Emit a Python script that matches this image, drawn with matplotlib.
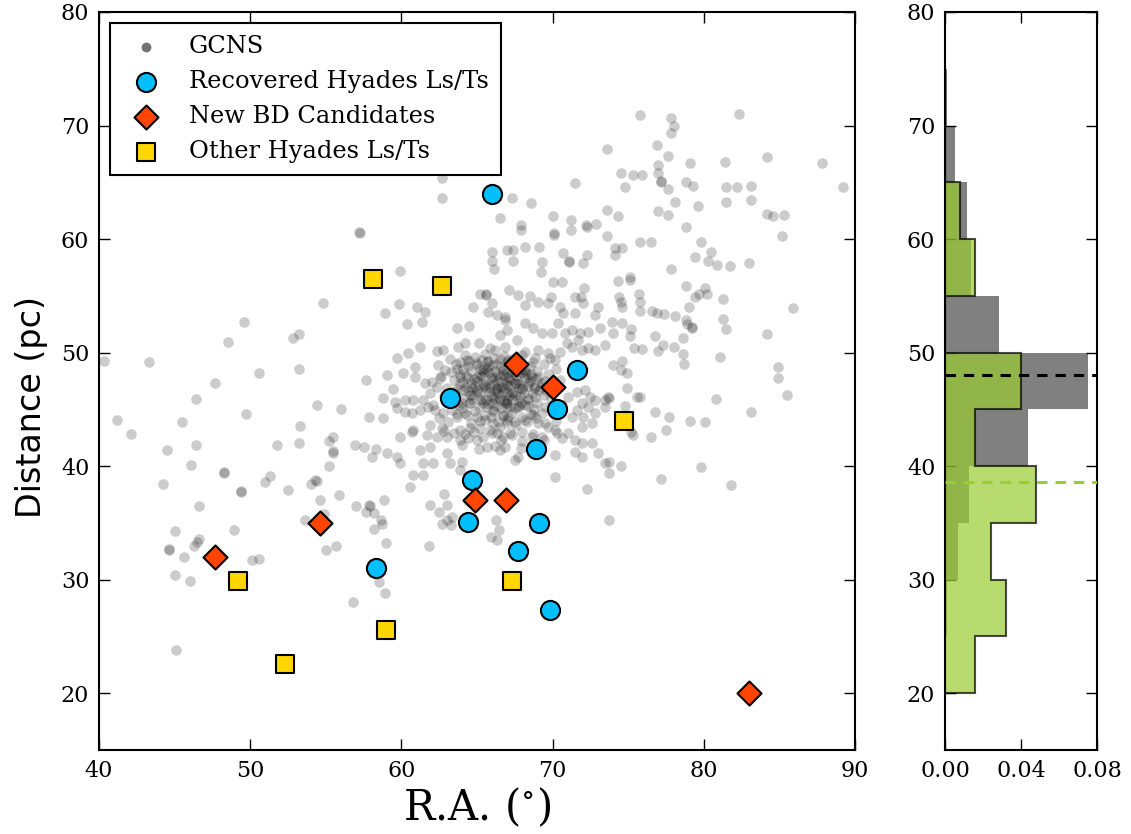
import numpy as np
import matplotlib
matplotlib.use('Agg')
import matplotlib.pyplot as plt

# ---------------- data ----------------
# Hyades L/T dwarfs recovered
rec_ra = [66.0, 63.2, 71.6, 70.3, 68.9, 64.7, 64.4, 69.1, 67.7, 58.3, 69.8]
rec_dist = [64.0, 46.0, 48.5, 45.0, 41.5, 38.8, 35.1, 35.0, 32.5, 31.0, 27.3]
# new brown dwarf candidates
new_ra = [47.7, 54.6, 64.9, 66.9, 67.6, 70.0, 83.0]
new_dist = [32.0, 35.0, 37.0, 37.0, 49.0, 47.0, 20.0]
# other Hyades L/T dwarfs
oth_ra = [58.1, 62.7, 74.7, 49.2, 59.0, 52.3, 67.3]
oth_dist = [56.5, 55.9, 44.0, 29.9, 25.6, 22.6, 29.9]

# GCNS field objects (RA, distance), by region
gcns_left = [
    (57.2, 60.6), (57.25, 60.5), (54.8, 54.4), (49.6, 52.7), (48.5, 50.9), (52.8, 51.3), (53.2, 51.6),
    (40.35, 49.3), (43.3, 49.2), (50.6, 48.2), (53.2, 48.6), (47.7, 47.3), (46.4, 45.9), (49.7, 44.6),
    (41.2, 44.1), (45.5, 43.9), (42.1, 42.8), (54.4, 45.4), (56.0, 45.0), (53.3, 43.5), (55.2, 42.2),
    (55.5, 42.6), (55.5, 41.3), (55.5, 41.2), (56.9, 41.9), (44.5, 41.4), (46.4, 41.9), (51.8, 41.9),
    (53.2, 42.0), (46.1, 40.1), (48.3, 39.5), (48.3, 39.4), (51.3, 39.1), (51.0, 38.6), (55.2, 40.0),
    (44.2, 38.4), (49.4, 37.8), (49.4, 37.7), (52.5, 37.9), (54.0, 38.4), (54.3, 38.8), (54.4, 38.7),
    (55.9, 37.5), (54.6, 37.0), (57.0, 36.5), (46.6, 36.5), (53.6, 35.3), (54.9, 35.8), (45.0, 34.3),
    (48.9, 34.4), (46.6, 33.6), (44.6, 32.7), (44.6, 32.6), (45.6, 32.0), (46.3, 33.0), (46.5, 33.3),
    (45.0, 30.4), (46.0, 29.9), (50.1, 31.7), (50.6, 31.8), (55.0, 32.6), (55.7, 33.0), (59.0, 33.2),
    (61.8, 33.0), (58.5, 29.8), (58.9, 28.8), (56.8, 28.0), (45.1, 23.8),
]
gcns_top = [
    (73.6, 67.9), (62.7, 65.4), (62.7, 63.6), (71.5, 64.9), (67.3, 63.6), (68.6, 63.2), (66.5, 61.9),
    (70.0, 62.0), (71.2, 61.7), (71.2, 60.8), (67.9, 61.2), (67.9, 60.8), (72.2, 61.2), (72.3, 61.1),
    (72.9, 61.3), (70.1, 60.4), (70.1, 60.5), (73.6, 62.6), (73.6, 60.3), (66.0, 58.9), (66.0, 58.1),
    (66.1, 57.4), (67.0, 59.0), (67.4, 59.0), (67.4, 58.1), (68.2, 59.3), (69.1, 59.3), (69.3, 58.0),
    (69.2, 57.1), (70.7, 58.8), (71.1, 58.1), (71.1, 58.0), (72.0, 57.9), (72.3, 58.6), (59.9, 57.2),
    (70.0, 56.2), (70.6, 56.2), (72.1, 55.7), (65.2, 55.2), (65.6, 55.2), (65.6, 55.1), (67.1, 55.5),
    (67.7, 55.1), (68.5, 55.0), (69.9, 54.9), (71.5, 54.9), (71.9, 54.9),
]
gcns_topright = [
    (75.8, 70.9), (77.8, 70.7), (78.0, 70.0), (77.8, 69.3), (82.3, 71.0), (76.9, 68.3), (77.6, 67.3),
    (77.0, 66.5), (77.0, 65.8), (77.2, 65.1), (77.2, 65.0), (77.6, 64.4), (79.1, 66.7), (81.4, 66.8),
    (84.2, 67.2), (87.8, 66.7), (74.5, 65.8), (75.3, 65.6), (75.9, 65.6), (74.8, 64.6), (78.8, 65.0),
    (79.3, 64.7), (81.5, 64.6), (82.2, 64.6), (83.1, 64.7), (89.2, 64.6), (74.3, 62.0), (77.0, 62.5),
    (77.6, 62.1), (78.1, 63.3), (79.6, 62.9), (81.5, 63.3), (83.1, 63.4), (84.2, 62.2), (84.6, 62.0),
    (85.3, 62.1), (78.8, 61.1), (74.1, 59.2), (74.1, 58.6), (74.6, 59.2), (75.8, 59.7), (76.5, 59.7),
    (79.8, 59.7), (80.5, 58.9), (80.3, 58.1), (79.4, 58.4), (80.9, 57.7), (81.7, 57.6), (83.0, 57.9),
    (85.2, 60.3), (77.8, 57.4), (74.3, 56.3), (75.1, 56.7), (75.1, 56.4), (74.4, 54.9), (74.5, 54.5),
    (74.6, 54.0), (75.7, 55.2), (75.8, 54.5), (75.8, 53.7), (78.8, 55.9), (80.1, 55.7), (79.7, 55.2),
    (80.2, 55.2), (79.4, 54.9), (81.3, 54.7), (79.0, 54.0), (85.9, 53.9), (76.6, 53.7), (76.9, 53.5),
    (77.4, 53.4), (78.1, 53.2), (78.8, 52.9), (81.3, 53.0),
]
gcns_right = [
    (73.9, 52.7), (74.6, 52.6), (75.2, 52.1), (75.1, 51.5), (74.0, 51.7), (76.8, 51.5), (77.3, 50.7),
    (77.0, 50.1), (78.0, 50.5), (78.6, 51.3), (78.6, 49.9), (78.7, 49.0), (75.4, 50.4), (75.9, 50.3),
    (79.2, 52.3), (78.9, 52.5), (79.2, 52.2), (81.1, 49.6), (81.5, 52.1), (84.2, 51.6), (84.9, 48.7),
    (84.9, 47.8), (85.5, 46.3), (74.0, 48.9), (74.6, 49.3), (74.5, 48.5), (74.9, 48.2), (74.9, 46.9),
    (75.6, 46.1), (75.8, 46.1), (73.7, 46.0), (74.8, 45.3), (76.8, 44.8), (77.7, 44.3), (79.1, 44.0),
    (80.1, 43.9), (80.8, 45.9), (83.1, 44.8), (77.5, 43.2), (75.3, 42.7), (75.2, 43.0), (76.5, 42.6),
    (73.7, 40.4), (73.7, 39.4), (74.5, 40.0), (77.2, 38.9), (79.8, 39.9), (81.8, 38.3), (73.7, 35.3),
]
gcns_mid_west = [
    (59.85, 54.28), (61.06, 53.98), (61.57, 53.60), (58.92, 53.46), (60.35, 52.52), (61.35, 52.72),
    (63.71, 52.13), (64.50, 52.34), (64.76, 54.04), (65.76, 53.60), (66.31, 53.31), (66.86, 52.87),
    (65.98, 54.34), (61.24, 50.52), (62.38, 50.17), (62.78, 50.22), (63.77, 50.52), (64.21, 50.87),
    (65.16, 50.87), (65.87, 50.37), (66.20, 50.22), (66.53, 51.55), (66.97, 51.99), (59.69, 49.49),
    (60.46, 49.93), (60.91, 48.76), (59.03, 48.02), (60.09, 48.23), (59.47, 46.76), (58.81, 45.97),
    (59.58, 45.67), (60.24, 45.82), (60.80, 45.82), (61.46, 45.82), (60.91, 47.87), (61.57, 47.29),
    (62.01, 47.43), (62.56, 47.73), (62.34, 46.99), (61.90, 46.41), (63.88, 49.20), (64.32, 49.34),
    (64.98, 48.90), (65.32, 49.34), (65.65, 49.20), (63.88, 47.87), (64.43, 47.73), (64.98, 47.87),
    (65.43, 48.32), (65.98, 47.87), (66.42, 47.58), (66.75, 48.02), (64.10, 46.70), (64.54, 46.26),
    (64.98, 46.70), (65.43, 47.14), (65.87, 46.99), (66.31, 46.84), (66.75, 46.55), (66.97, 47.14),
    (66.09, 46.11), (66.53, 45.82), (66.97, 45.53), (63.99, 45.53), (64.54, 45.53), (65.21, 45.82),
    (65.65, 45.23), (66.09, 44.94), (66.75, 44.50), (66.97, 43.76), (58.81, 44.20), (59.69, 45.08),
    (60.24, 44.79), (60.68, 44.64), (61.24, 44.94), (61.79, 45.23), (62.23, 44.94), (62.78, 44.64),
    (63.33, 44.94), (63.66, 44.35), (64.32, 44.50), (64.98, 44.35), (65.54, 44.06), (66.09, 43.76),
    (66.53, 43.47), (60.80, 43.18), (61.90, 43.62), (62.67, 43.32), (63.88, 43.18), (64.54, 43.32),
    (65.21, 43.32), (65.87, 43.18), (66.31, 42.88), (66.75, 42.59), (59.91, 42.59), (60.68, 43.03),
    (61.68, 42.74), (62.34, 42.59), (63.00, 42.59), (63.88, 42.29), (64.43, 42.44), (64.98, 42.29),
    (65.65, 41.71), (66.53, 41.41), (59.03, 41.12), (59.69, 40.83), (59.91, 40.24), (61.24, 41.41),
    (61.90, 41.71), (61.46, 40.24), (62.12, 40.24), (63.00, 41.12), (63.22, 40.24), (63.99, 40.39),
    (63.88, 39.65), (60.80, 39.21), (61.46, 39.21),
]
gcns_mid_east = [
    (68.17, 54.19), (69.06, 54.48), (69.72, 54.34), (70.49, 54.04), (70.71, 53.46), (71.48, 53.46),
    (72.03, 54.34), (72.80, 53.31), (73.02, 54.04), (70.38, 52.57), (68.17, 52.57), (68.72, 52.13),
    (69.28, 51.69), (69.94, 51.69), (70.82, 51.69), (71.26, 51.99), (71.81, 51.69), (72.36, 51.84),
    (73.13, 52.13), (67.62, 51.11), (66.85, 53.16), (66.85, 50.52), (67.07, 49.34), (68.17, 50.08),
    (68.83, 49.49), (69.06, 50.22), (69.72, 49.93), (70.16, 49.34), (70.49, 50.08), (70.93, 50.81),
    (71.26, 50.52), (71.70, 51.11), (71.92, 50.22), (72.36, 50.37), (72.80, 50.22), (73.47, 50.67),
    (67.07, 47.87), (67.51, 47.29), (67.95, 46.85), (68.39, 47.29), (67.29, 46.41), (67.84, 46.11),
    (68.39, 45.82), (68.83, 46.11), (67.18, 45.23), (67.73, 45.23), (68.61, 47.87), (68.17, 48.32),
    (69.06, 47.87), (68.83, 46.99), (66.96, 45.82), (71.04, 46.11), (71.59, 46.55), (72.14, 46.70),
    (72.47, 46.11), (72.80, 45.82), (71.92, 45.53), (72.36, 45.23), (71.59, 44.94), (71.26, 44.35),
    (72.03, 44.35), (72.80, 44.64), (72.58, 43.76), (71.92, 43.47), (73.47, 45.82), (73.47, 45.23),
    (73.69, 46.11), (67.07, 44.35), (67.51, 43.91), (68.17, 44.06), (68.72, 44.50), (69.06, 43.76),
    (69.72, 43.47), (69.28, 44.64), (67.18, 42.88), (67.95, 43.03), (68.61, 42.59), (69.28, 42.59),
    (70.16, 43.18), (70.60, 42.44), (71.04, 42.88), (71.48, 42.29), (71.92, 42.00), (72.58, 42.00),
    (73.02, 41.12), (71.48, 41.27), (70.16, 40.97), (66.85, 41.71), (67.73, 40.83), (73.47, 40.24),
    (67.51, 40.53), (70.16, 39.06), (71.92, 40.83),
]
gcns_south = [
    (57.64, 47.63), (57.86, 44.34), (57.53, 41.70), (58.30, 41.55), (58.08, 40.82), (57.86, 36.56),
    (57.90, 36.50), (57.64, 35.97), (58.19, 35.83), (58.85, 37.00), (58.63, 35.24), (58.19, 34.50),
    (58.74, 34.94), (62.82, 37.59), (63.04, 36.56), (62.49, 35.97), (63.37, 35.53), (63.04, 35.24),
    (62.71, 34.94), (63.26, 34.80), (66.24, 35.24), (66.46, 34.36), (65.91, 33.77), (72.30, 38.03),
    (66.30, 33.50), (61.9, 36.6), (64.4, 36.9), (60.6, 38.2),
]
# dense Hyades core (heavily overlapping points)
gcns_core = [
    (64.2, 49.8), (64.9, 49.6), (65.5, 49.9), (66.1, 49.5), (66.8, 49.7), (67.4, 49.4), (68.0, 49.8),
    (68.7, 49.2), (69.4, 49.0), (63.6, 49.0), (64.4, 48.8), (65.0, 49.1), (65.7, 48.7), (66.3, 49.0),
    (66.9, 48.6), (67.5, 48.9), (68.2, 48.5), (69.0, 48.4), (69.7, 48.1), (63.3, 48.3), (63.9, 48.1),
    (64.6, 48.4), (65.2, 48.0), (65.8, 48.3), (66.4, 48.1), (67.0, 48.2), (67.6, 47.9), (68.3, 48.0),
    (68.9, 47.7), (69.5, 47.5), (63.5, 47.6), (64.1, 47.4), (64.8, 47.7), (65.4, 47.3), (66.0, 47.6),
    (66.6, 47.4), (67.2, 47.6), (67.8, 47.2), (68.5, 47.5), (69.2, 47.0), (63.0, 46.9), (63.7, 46.8),
    (64.3, 47.0), (65.0, 46.6), (65.6, 46.9), (66.2, 46.7), (66.8, 46.9), (67.4, 46.5), (68.0, 46.8),
    (68.7, 46.4), (69.4, 46.3), (63.4, 46.2), (64.0, 46.0), (64.7, 46.3), (65.3, 45.9), (65.9, 46.2),
    (66.5, 46.0), (67.1, 46.2), (67.7, 45.8), (68.4, 46.0), (69.0, 45.6), (63.8, 45.4), (64.5, 45.6),
    (65.1, 45.2), (65.7, 45.5), (66.3, 45.3), (66.9, 45.6), (67.5, 45.1), (68.2, 45.4), (68.8, 45.0),
    (64.2, 44.7), (64.9, 44.9), (65.5, 44.5), (66.1, 44.8), (66.7, 44.4), (67.3, 44.7), (68.0, 44.3),
    (68.6, 44.6), (65.6, 48.6), (66.2, 48.4), (66.7, 48.5), (67.3, 48.3), (67.9, 48.6), (65.3, 47.9),
    (65.9, 47.8), (66.5, 47.9), (67.1, 47.8), (67.7, 47.6), (68.2, 47.8), (65.5, 47.1), (66.1, 47.2),
    (66.6, 47.0), (67.2, 47.1), (67.8, 46.9), (68.4, 47.1), (65.2, 46.4), (65.8, 46.5), (66.4, 46.4),
    (67.0, 46.5), (67.5, 46.3), (68.1, 46.4), (65.6, 45.8), (66.2, 45.9), (66.8, 45.7), (67.3, 45.9),
    (67.9, 45.6), (64.3, 47.9), (64.6, 47.3), (64.4, 46.6), (63.9, 47.2), (64.9, 47.1), (64.7, 46.9),
    (66.0, 48.9), (66.6, 48.8), (67.2, 49.0), (65.4, 48.5), (68.6, 48.1), (68.8, 46.9), (69.1, 46.7),
    (69.3, 47.3), (68.0, 48.2), (66.9, 47.3), (66.3, 46.8), (67.6, 47.3), (65.0, 47.5), (64.1, 48.6),
    (67.0, 45.2), (66.0, 45.6),
    (62.4, 48.9), (62.9, 48.5), (63.2, 49.4), (62.6, 47.9), (62.8, 46.2), (63.3, 45.6), (62.1, 45.4),
    (69.8, 49.5), (70.2, 48.6), (70.5, 47.6), (70.1, 46.9), (69.9, 45.9), (70.6, 45.4), (69.5, 45.2),
    (64.5, 49.3), (65.2, 48.6), (66.5, 49.4), (67.7, 48.4), (68.5, 48.8), (63.7, 48.6), (64.0, 45.1),
    (65.4, 45.6), (66.6, 45.1), (67.8, 45.3), (68.4, 45.3), (69.6, 46.6), (64.7, 45.9), (63.5, 46.5),
    (65.7, 49.3), (67.0, 49.2),
]
gcns_core_south = [
    (62.5, 44.2), (63.1, 43.9), (63.7, 44.6), (64.6, 43.8), (65.2, 44.0), (65.9, 44.3), (66.4, 43.9),
    (67.0, 44.1), (67.6, 43.6), (68.3, 43.9), (68.9, 44.2), (69.5, 43.8), (70.2, 44.0), (62.8, 43.1),
    (63.5, 42.9), (64.2, 42.8), (64.8, 43.0), (65.4, 42.6), (66.0, 42.9), (66.6, 42.3), (67.3, 42.7),
    (68.0, 42.2), (68.7, 42.8), (69.4, 42.3), (70.3, 42.9), (64.0, 41.9), (65.1, 41.5), (66.2, 41.8),
    (67.9, 41.6), (69.0, 41.3),
]

# ---------------- derived ----------------
gcns = (gcns_left + gcns_top + gcns_topright + gcns_right + gcns_mid_west
        + gcns_mid_east + gcns_south + gcns_core + gcns_core_south)
gcns_ra = np.array([p[0] for p in gcns])
gcns_dist = np.array([p[1] for p in gcns])
hy_dist = np.array(rec_dist + new_dist + oth_dist)
bins = np.arange(20, 80, 5)

# ---------------- figure ----------------
plt.rcParams['font.family'] = 'DejaVu Serif'
plt.rcParams['mathtext.fontset'] = 'dejavuserif'

W, H = 1131, 834
fig = plt.figure(figsize=(W / 100, H / 100), dpi=100)
ax = fig.add_axes([99 / W, 84 / H, 756 / W, 738 / H])
axh = fig.add_axes([945 / W, 84 / H, 152 / W, 738 / H])

ax.scatter(gcns_ra, gcns_dist, s=58, color='k', alpha=0.2, linewidths=0,
           label='GCNS', zorder=1)
ax.scatter(rec_ra, rec_dist, s=190, marker='o', color='#00bfff', edgecolors='k',
           linewidths=1.5, label='Recovered Hyades Ls/Ts', zorder=3)
ax.scatter(new_ra, new_dist, s=150, marker='D', color='#ff4500', edgecolors='k',
           linewidths=1.5, label='New BD Candidates', zorder=4)
ax.scatter(oth_ra, oth_dist, s=170, marker='s', color='#ffd700', edgecolors='k',
           linewidths=1.5, label='Other Hyades Ls/Ts', zorder=5)

ax.set_xlim(40, 90)
ax.set_ylim(15, 80)
ax.set_xticks(np.arange(40, 91, 10))
ax.set_yticks(np.arange(20, 81, 10))
ax.tick_params(direction='in', top=True, right=True, length=8, width=1,
               labelsize=16, pad=7)
for sp in ax.spines.values():
    sp.set_linewidth(1.5)
ax.set_xlabel('R.A. ($^{\\circ}$)', fontsize=30, labelpad=3)
ax.set_ylabel('Distance (pc)', fontsize=24, family='DejaVu Sans')
ax.yaxis.set_label_coords(-0.0675, 0.465)

leg = ax.legend(loc='upper left', fontsize=17.4, frameon=True, fancybox=False,
                edgecolor='k', framealpha=1, scatterpoints=1, borderpad=0.5,
                labelspacing=0.5, handletextpad=0.82, handlelength=1.95,
                borderaxespad=0.45)
leg.get_frame().set_linewidth(1.5)
hs = leg.legend_handles
hs[0].set_alpha(0.55)
hs[0].set_sizes([50])

# histogram panel
axh.hist(gcns_dist, bins=bins, orientation='horizontal', density=True,
         histtype='stepfilled', color='gray', zorder=1)
axh.hist(hy_dist, bins=bins, orientation='horizontal', density=True,
         histtype='stepfilled', facecolor='yellowgreen', edgecolor='k', lw=1.5,
         alpha=0.7, zorder=2)
axh.axhline(np.mean(gcns_dist), color='k', ls='--', lw=2.2, dashes=(3.4, 2.6), zorder=3)
axh.axhline(np.mean(hy_dist), color='yellowgreen', ls='--', lw=2.2, dashes=(3.4, 2.6), zorder=3)
axh.set_xlim(0, 0.08)
axh.set_ylim(15, 80)
axh.set_xticks([0.0, 0.04, 0.08])
axh.set_xticklabels(['0.00', '0.04', '0.08'])
axh.set_yticks(np.arange(20, 81, 10))
axh.tick_params(direction='in', top=True, right=True, length=8, width=1,
                labelsize=16, pad=7)
for sp in axh.spines.values():
    sp.set_linewidth(1.5)

fig.savefig('out.png', dpi=100)
